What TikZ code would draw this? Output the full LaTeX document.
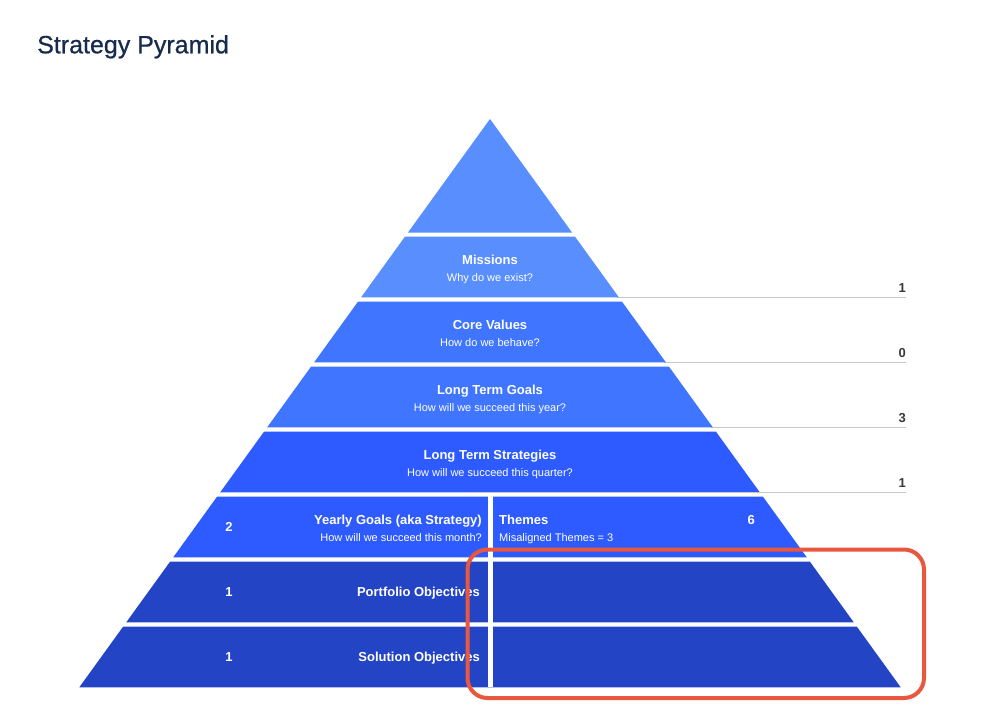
\documentclass[tikz,border=0pt]{standalone}
\usepackage{fontspec}
\setmainfont{Liberation Sans}
\newfontfamily\titlefont[FakeBold=0.7]{Liberation Sans}
\definecolor{cA}{HTML}{598EFF}
\definecolor{cB}{HTML}{4076FF}
\definecolor{cC}{HTML}{2D5BFF}
\definecolor{cD}{HTML}{2444C6}
\definecolor{titlec}{HTML}{172B4D}
\definecolor{rulec}{HTML}{C5C7CC}
\definecolor{numc}{HTML}{3A3A3A}
\definecolor{redc}{HTML}{E9573F}
\begin{document}
\begin{tikzpicture}[x=1pt,y=-1pt,
  ttl/.style={font=\fontsize{13}{15}\selectfont\bfseries, text=white, inner sep=0pt},
  subt/.style={font=\fontsize{11}{13}\selectfont, text=white, inner sep=0pt},
  rnum/.style={font=\fontsize{13}{15}\selectfont\bfseries, text=numc, inner sep=0pt, anchor=base east},
  rulel/.style={draw=rulec, line width=1pt},
  redbox/.style={draw=redc, line width=4pt, rounded corners=20pt}
]
\useasboundingbox (0,0) rectangle (994,717);
\fill[white] (0,0) rectangle (994,717);

% title
\node[font=\titlefont\fontsize{25}{30}\selectfont, text=titlec, inner sep=0pt, anchor=base west] (title) at (37,53.3) {Strategy Pyramid};

% gray rules behind
\foreach \i in {0,1,2} {
  \pgfmathsetmacro\b{236.7+65*\i+60.6}
  \pgfmathsetmacro\wb{0.7227*(\b-119)}
  \draw[rulel] ({490+\wb-2},\b) -- (906,\b);
}

% pyramid
\fill[cA] (490,119) -- ({490+0.7227*113.7},232.7) -- ({490-0.7227*113.7},232.7) -- cycle;
\foreach \i/\c in {0/cA,1/cB,2/cB,3/cC,4/cC,5/cD,6/cD} {
  \pgfmathsetmacro\t{236.7+65*\i}
  \pgfmathsetmacro\b{\t+60.6}
  \pgfmathsetmacro\wt{0.7227*(\t-119)}
  \pgfmathsetmacro\wb{0.7227*(\b-119)}
  \fill[\c] ({490-\wt},\t) -- ({490+\wt},\t) -- ({490+\wb},\b) -- ({490-\wb},\b) -- cycle;
}
% rule over LTS bottom
\draw[rulel] (470,492.3) -- (906,492.3);

% divider
\fill[white] (488.2,494) rectangle (492.8,687.3);

% right numbers
\node[rnum] (n1) at (906,292.3) {1};
\node[rnum] (n2) at (906,357.3) {0};
\node[rnum] (n3) at (906,422.3) {3};
\node[rnum] (n4) at (906,487.3) {1};

% row texts
\node[ttl, anchor=base] (mis) at (490,264.3) {Missions};
\node[subt, anchor=base] (miss) at (490,281) {Why do we exist?};
\node[ttl, anchor=base] (cv) at (490,329.3) {Core Values};
\node[subt, anchor=base] (cvs) at (490,346) {How do we behave?};
\node[ttl, anchor=base] (ltg) at (490,394.3) {Long Term Goals};
\node[subt, anchor=base] (ltgs) at (490,411) {How will we succeed this year?};
\node[ttl, anchor=base] (lts) at (490,459.3) {Long Term Strategies};
\node[subt, anchor=base] (ltss) at (490,476) {How will we succeed this quarter?};

\node[ttl, anchor=base] (y2) at (229,531.7) {2};
\node[ttl, anchor=base east] (yg) at (482,524.3) {Yearly Goals (aka Strategy)};
\node[subt, anchor=base east] (ygs) at (482,541) {How will we succeed this month?};
\node[ttl, anchor=base west] (th) at (499,524.3) {Themes};
\node[subt, anchor=base west] (ths) at (499,541) {Misaligned Themes = 3};
\node[ttl, anchor=base east] (th6) at (755,524.3) {6};

\node[ttl, anchor=base] (p1) at (229,596.7) {1};
\node[ttl, anchor=base east] (po) at (480,596.7) {Portfolio Objectives};
\node[ttl, anchor=base] (s1) at (229,661.7) {1};
\node[ttl, anchor=base east] (so) at (480,661.7) {Solution Objectives};

% red highlight
\draw[redbox] (467.5,549.5) rectangle (924,698);
\end{tikzpicture}
\end{document}
